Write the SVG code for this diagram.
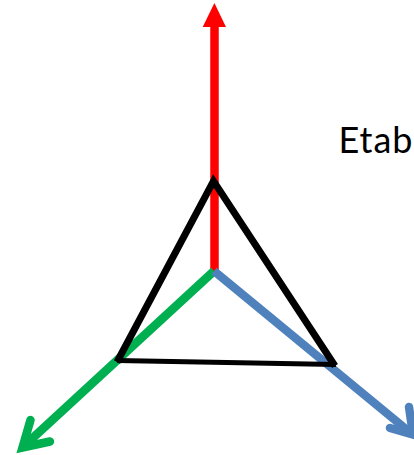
<svg xmlns="http://www.w3.org/2000/svg" width="414" height="455" viewBox="0 0 414 455">
<style>
.a{fill:none;stroke-width:8.5}
.b{fill:none;stroke-width:8.5;stroke-linecap:round;stroke-linejoin:miter;stroke-miterlimit:10}
.t{fill:none;stroke:#000;stroke-linejoin:miter;stroke-miterlimit:10}
.l{font-family:"Lato","Open Sans",sans-serif;font-size:36px;fill:#000;letter-spacing:1px}
</style>
<rect width="414" height="455" fill="#fff"/>
<g id="connectors">
<g id="axis-red"><line class="a" x1="214.5" y1="271" x2="214.5" y2="26" stroke="#f00"/><polygon points="214.4,3 226,27 202.7,27" fill="#f00"/></g>
<g id="axis-green"><line class="a" x1="214" y1="271" x2="23" y2="447" stroke="#00b050"/><path class="b" d="M30.5,420 L22.5,447.5 L50,441.5" stroke="#00b050"/></g>
<g id="axis-blue"><line class="a" x1="214" y1="271" x2="412" y2="434" stroke="#4f81bd"/><path class="b" d="M409,407 L413,434.5 L390,428" stroke="#4f81bd"/></g>
</g>
<g id="triangle"><line class="t" stroke-width="5" x1="117" y1="360.5" x2="336" y2="364.5"/><polyline class="t" stroke-width="7" points="117,362 213.5,181 335,366"/></g>
<g id="label"><text class="l" x="338.5" y="153">Etab</text></g>
</svg>
